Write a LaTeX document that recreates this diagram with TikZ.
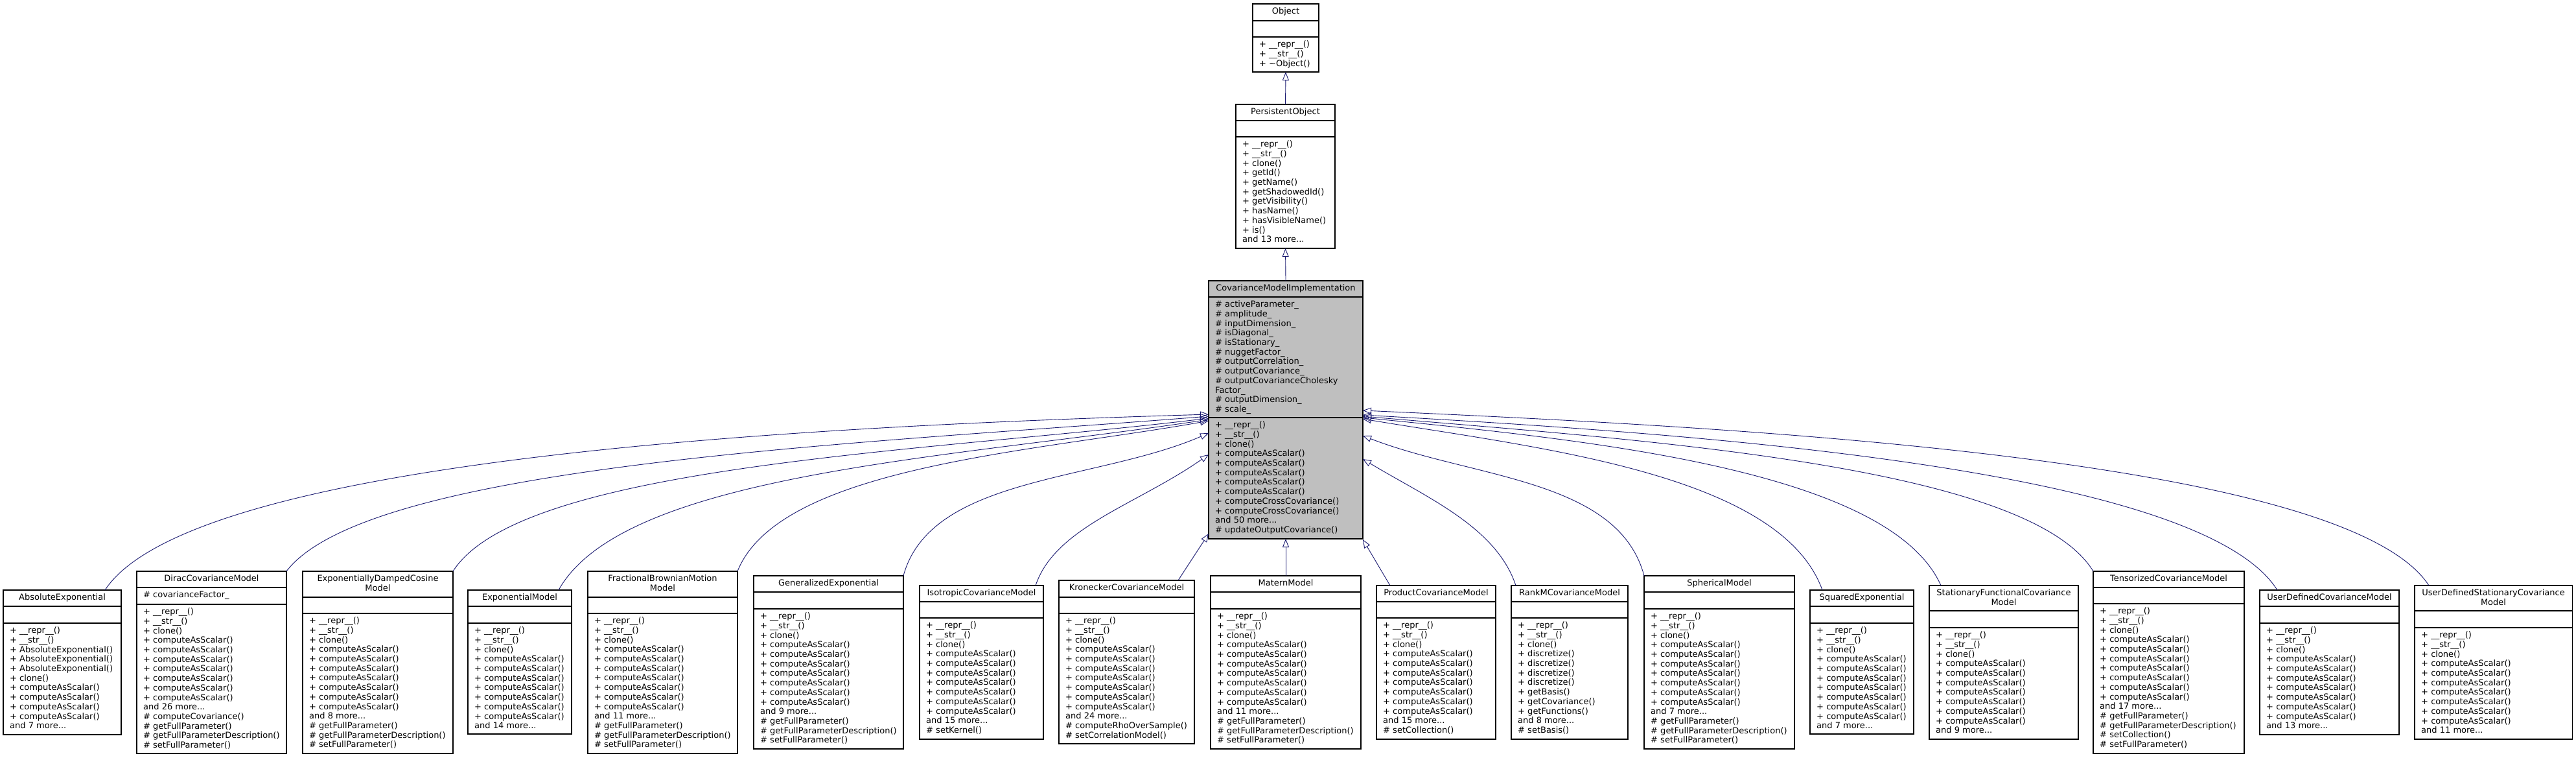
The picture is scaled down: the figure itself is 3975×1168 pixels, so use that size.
\documentclass[tikz,border=0pt]{standalone}
\usepackage{fontspec}
\setmainfont{DejaVu Sans}
\usetikzlibrary{arrows.meta,calc,fit}
\definecolor{edgeblue}{RGB}{25,25,112}
\definecolor{cmigray}{RGB}{191,191,191}
\newcommand\dfont{\fontsize{13}{14.7}\selectfont}
\newcommand\lnstrut{\rule{0pt}{10.5pt}}
\newcommand\mbase{+ \_\_repr\_\_()\\+ \_\_str\_\_()\\+ clone()}
\newcommand\mcas{+ computeAsScalar()}
\newcommand\casseven{\mcas\\\mcas\\\mcas\\\mcas\\\mcas\\\mcas\\\mcas}
\newcommand\gfpmeth{\# getFullParameter()\\\# getFullParameterDescription()\\\# setFullParameter()}
% #1 name, #2 x1, #3 x2, #4 top, #5 sep1, #6 sep2, #7 bottom, #8 title, #9 methods
\newcommand{\ucls}[9]{%
  \node[clsbox, fit={(#2,#4) (#3,#7)}] (#1) {};
  \draw[sepline] (#2,#5) -- (#3,#5);
  \draw[sepline] (#2,#6) -- (#3,#6);
  \node[titletext] (#1-t) at ({(#2+#3)/2},{#4+5}) {\lnstrut #8};
  \node[linestext] (#1-m) at ({#2+10},{#6+5}) {\lnstrut #9};
}
\begin{document}
\begin{tikzpicture}[x=1pt,y=-1pt,
  clsbox/.style={draw=black, line width=1.1pt, inner sep=0pt, outer sep=0pt},
  sepline/.style={draw=black, line width=1.1pt},
  titletext/.style={anchor=north, inner sep=0pt, align=center, font=\dfont},
  linestext/.style={anchor=north west, inner sep=0pt, align=left, font=\dfont},
  inh/.style={draw=edgeblue, line width=0.9pt, -{Triangle[open, length=13pt, width=10pt]}}]
\fill[white] (0,0) rectangle (3975,1168);
\useasboundingbox (0,0) rectangle (3975,1168);

% top classes
\ucls{obj}{1933}{2035}{6}{32}{57}{111}{Object}{+ \_\_repr\_\_()\\+ \_\_str\_\_()\\+ \textasciitilde Object()}
\ucls{pobj}{1907}{2060}{161}{186}{211}{383}{PersistentObject}{\mbase\\+ getId()\\+ getName()\\+ getShadowedId()\\+ getVisibility()\\+ hasName()\\+ hasVisibleName()\\+ is()\\and 13 more...}
\fill[cmigray] (1865,433) rectangle (2103,831);
\ucls{cmi}{1865}{2103}{433}{458}{644}{831}{CovarianceModelImplementation}{\mbase\\\mcas\\\mcas\\\mcas\\\mcas\\\mcas\\+ computeCrossCovariance()\\+ computeCrossCovariance()\\and 50 more...\\\# updateOutputCovariance()}
\node[linestext] (cmi-a) at (1875,463) {\lnstrut\# activeParameter\_\\\# amplitude\_\\\# inputDimension\_\\\# isDiagonal\_\\\# isStationary\_\\\# nuggetFactor\_\\\# outputCorrelation\_\\\# outputCovariance\_\\\# outputCovarianceCholesky\\Factor\_\\\# outputDimension\_\\\# scale\_};

% derived classes
\ucls{absexp}{5}{187}{910}{935}{961}{1133}{AbsoluteExponential}{+ \_\_repr\_\_()\\+ \_\_str\_\_()\\+ AbsoluteExponential()\\+ AbsoluteExponential()\\+ AbsoluteExponential()\\+ clone()\\\mcas\\\mcas\\\mcas\\\mcas\\and 7 more...}
\ucls{dirac}{211}{442}{881}{906}{932}{1162}{DiracCovarianceModel}{\mbase\\\casseven\\and 26 more...\\\# computeCovariance()\\\gfpmeth}
\node[linestext] (dirac-a) at (221,911) {\lnstrut\# covarianceFactor\_};
\ucls{expdamp}{467}{699}{881}{921}{946}{1162}{ExponentiallyDampedCosine\\Model}{\mbase\\\casseven\\and 8 more...\\\gfpmeth}
\ucls{expmod}{722}{882}{910}{935}{961}{1132}{ExponentialModel}{\mbase\\\casseven\\and 14 more...}
\ucls{fbm}{907}{1138}{881}{921}{946}{1162}{FractionalBrownianMotion\\Model}{\mbase\\\casseven\\and 11 more...\\\gfpmeth}
\ucls{genexp}{1163}{1394}{888}{913}{939}{1155}{GeneralizedExponential}{\mbase\\\casseven\\and 9 more...\\\gfpmeth}
\ucls{iso}{1419}{1610}{903}{928}{953}{1140}{IsotropicCovarianceModel}{\mbase\\\casseven\\and 15 more...\\\# setKernel()}
\ucls{kron}{1634}{1843}{895}{921}{946}{1147}{KroneckerCovarianceModel}{\mbase\\\casseven\\and 24 more...\\\# computeRhoOverSample()\\\# setCorrelationModel()}
\ucls{matern}{1868}{2100}{888}{913}{939}{1155}{MaternModel}{\mbase\\\casseven\\and 11 more...\\\gfpmeth}
\ucls{prod}{2124}{2308}{903}{928}{953}{1140}{ProductCovarianceModel}{\mbase\\\casseven\\and 15 more...\\\# setCollection()}
\ucls{rankm}{2332}{2512}{903}{928}{953}{1140}{RankMCovarianceModel}{\mbase\\+ discretize()\\+ discretize()\\+ discretize()\\+ discretize()\\+ getBasis()\\+ getCovariance()\\+ getFunctions()\\and 8 more...\\\# setBasis()}
\ucls{sph}{2537}{2769}{888}{913}{939}{1155}{SphericalModel}{\mbase\\\casseven\\and 7 more...\\\gfpmeth}
\ucls{sqexp}{2793}{2953}{910}{935}{961}{1132}{SquaredExponential}{\mbase\\\casseven\\and 7 more...}
\ucls{sfcm}{2977}{3207}{903}{942}{968}{1140}{StationaryFunctionalCovariance\\Model}{\mbase\\\casseven\\and 9 more...}
\ucls{tens}{3230}{3463}{881}{906}{931}{1162}{TensorizedCovarianceModel}{\mbase\\\casseven\\and 17 more...\\\# getFullParameter()\\\# getFullParameterDescription()\\\# setCollection()\\\# setFullParameter()}
\ucls{udcm}{3487}{3702}{910}{935}{961}{1133}{UserDefinedCovarianceModel}{\mbase\\\casseven\\and 13 more...}
\ucls{udscm}{3726}{3969}{903}{942}{968}{1140}{UserDefinedStationaryCovariance\\Model}{\mbase\\\casseven\\and 11 more...}

% inheritance edges
\draw[inh] (pobj.north) -- (obj.south);
\draw[inh] (cmi.north) -- (pobj.south);
\draw[inh] (matern.north) -- (cmi.south);
\draw[inh] ($(absexp.north west)+(157,0)$) .. controls +(138,-210) and +(-565,17) .. ($(cmi.north west)+(0,206)$);
\draw[inh] (dirac.north east) .. controls +(128,-167) and +(-527,42) .. ($(cmi.north west)+(0,209)$);
\draw[inh] (expdamp.north east) .. controls +(105,-165) and +(-431,52) .. ($(cmi.north west)+(0,212)$);
\draw[inh] ($(expmod.north west)+(140,0)$) .. controls +(100,-180) and +(-400,60) .. ($(cmi.north west)+(0,214)$);
\draw[inh] (fbm.north east) .. controls +(65,-162) and +(-269,48) .. ($(cmi.north west)+(0,216)$);
\draw[inh] (genexp.north east) .. controls +(42,-154) and +(-174,75) .. ($(cmi.north west)+(0,235)$);
\draw[inh] ($(iso.north west)+(179,0)$) .. controls +(30,-90) and +(-110,77) .. ($(cmi.north west)+(0,268)$);
\draw[inh] ($(kron.north west)+(184,0)$) -- ($(cmi.north west)+(0,390)$);
\draw[inh] ($(prod.north west)+(21,0)$) -- ($(cmi.north east)+(0,399)$);
\draw[inh] ($(rankm.north west)+(7,0)$) .. controls +(-30,-90) and +(100,60) .. ($(cmi.north east)+(0,275)$);
\draw[inh] (sph.north west) .. controls +(-40,-150) and +(170,66) .. ($(cmi.north east)+(0,239)$);
\draw[inh] ($(sqexp.north west)+(19,0)$) .. controls +(-65,-180) and +(270,45) .. ($(cmi.north east)+(0,213)$);
\draw[inh] ($(sfcm.north west)+(18,0)$) .. controls +(-80,-180) and +(340,34) .. ($(cmi.north east)+(0,211)$);
\draw[inh] (tens.north west) .. controls +(-100,-165) and +(420,36) .. ($(cmi.north east)+(0,209)$);
\draw[inh] ($(udcm.north west)+(27,0)$) .. controls +(-120,-190) and +(500,28) .. ($(cmi.north east)+(0,207)$);
\draw[inh] ($(udscm.north west)+(22,0)$) .. controls +(-130,-200) and +(550,25) .. ($(cmi.north east)+(0,200)$);
\end{tikzpicture}
\end{document}
